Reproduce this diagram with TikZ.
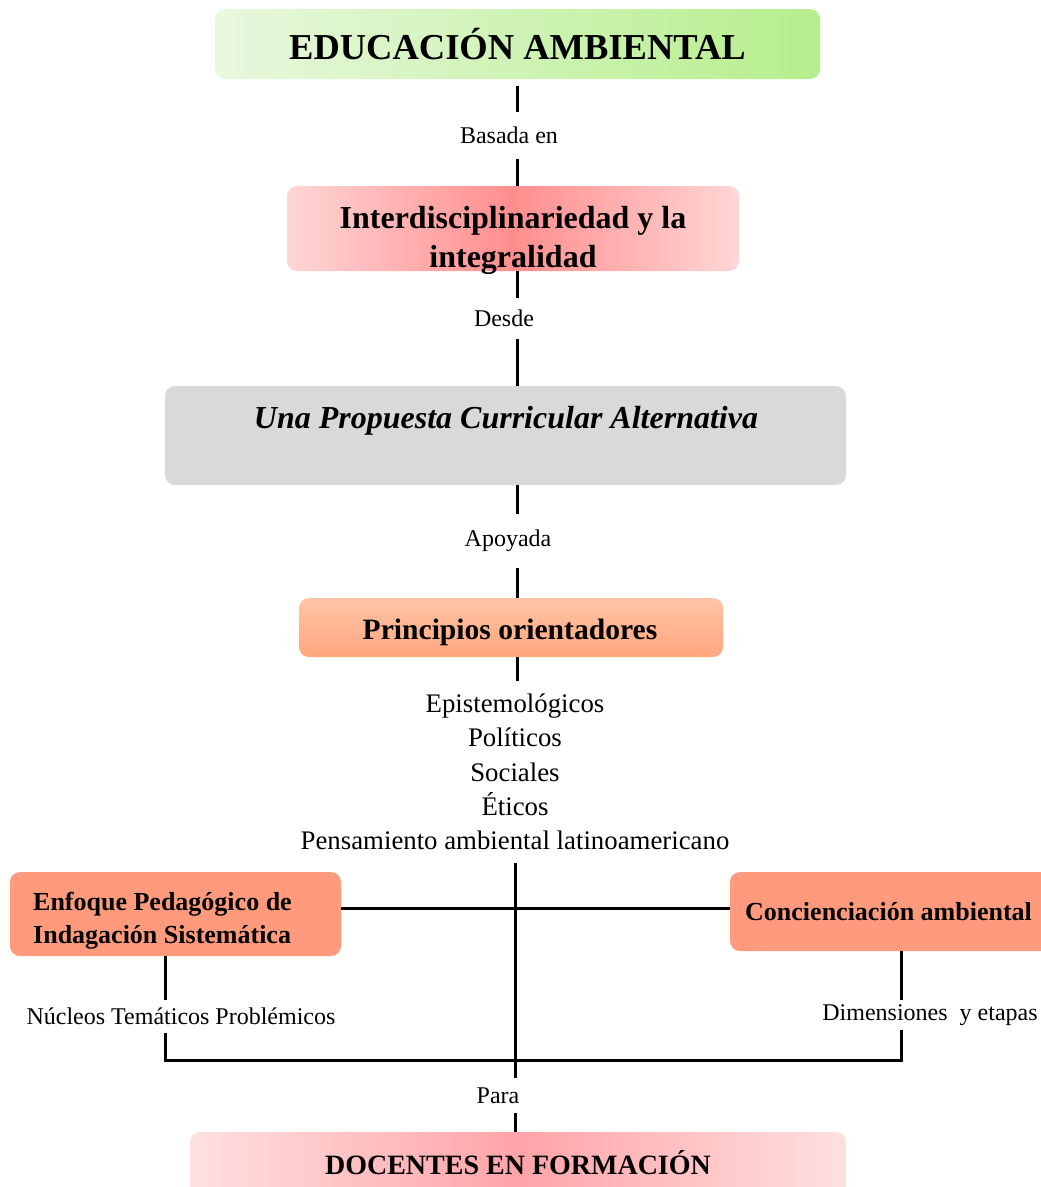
\documentclass[tikz,border=0pt]{standalone}
\usepackage{fontspec}
\setmainfont{Liberation Serif}
\definecolor{grL}{HTML}{E8F8DE}
\definecolor{grR}{HTML}{B6EE8C}
\definecolor{pkE}{HTML}{FFD6D6}
\definecolor{pkM}{HTML}{FF8E8E}
\definecolor{dcE}{HTML}{FFE0E0}
\definecolor{dcM}{HTML}{FFA4A8}
\definecolor{orT}{HTML}{FFC4A4}
\definecolor{orB}{HTML}{FFA67E}
\definecolor{salmon}{HTML}{FF9A7C}
\definecolor{greybox}{HTML}{D9D9D9}
\begin{document}
\begin{tikzpicture}[x=1pt,y=-1pt,
  box/.style={rounded corners=10pt, inner sep=0pt, draw=none},
  conn/.style={line width=3pt, black},
  lab/.style={inner sep=0pt, font=\fontsize{24}{28}\selectfont},
  txt/.style={inner sep=0pt, font=\fontsize{#1}{36}\selectfont\bfseries},
]
\useasboundingbox (0,0) rectangle (1041,1187);
\begin{scope}
\clip (0,0) rectangle (1041,1187);

% boxes
\node[box, left color=grL, right color=grR, minimum width=605pt, minimum height=70pt,
      font=\fontsize{36.5}{42}\selectfont\bfseries] (edu) at (517.5,44) {EDUCACIÓN AMBIENTAL};

\node[box, left color=pkE, right color=pkE, middle color=pkM,
      minimum width=452pt, minimum height=85pt] (int) at (513,228.5) {};
\node[align=center, inner sep=0pt, font=\fontsize{32}{39}\selectfont\bfseries] (intT) at (513,240)
  {Interdisciplinariedad y la\\integralidad};

\node[box, fill=greybox, minimum width=681pt, minimum height=99pt] (una) at (505.5,435.5) {};
\node[inner sep=0pt, font=\fontsize{32}{38}\selectfont\bfseries\itshape] (unaT) at (506,421)
  {Una Propuesta Curricular Alternativa};

\node[box, top color=orT, bottom color=orB, minimum width=424pt, minimum height=59pt] (pri) at (511,627.5) {};
\node[txt=29.6] (priT) at (510,632) {Principios orientadores};

\node[box, fill=salmon, minimum width=331pt, minimum height=84pt] (enf) at (175.5,914) {};
\node[anchor=west, align=left, inner sep=0pt, font=\fontsize{26}{33}\selectfont\bfseries] (enfT) at (33,921)
  {Enfoque Pedagógico de\\Indagación Sistemática};

\node[box, fill=salmon, minimum width=330pt, minimum height=79pt] (conc) at (895,911.5) {};
\node[anchor=west, txt=26] (concT) at (745,911.5) {Concienciación ambiental};

\node[box, left color=dcE, right color=dcE, middle color=dcM,
      minimum width=656pt, minimum height=68pt] (doc) at (518,1166) {};
\node[txt=28] (docT) at (518,1163) {DOCENTES EN FORMACIÓN};

% connector labels
\node[lab, minimum height=47pt] (basada) at (509,135.5) {Basada en};
\node[lab, minimum height=41pt] (desde) at (504,318.5) {Desde};
\node[lab, minimum height=54pt] (apoyada) at (508,541) {Apoyada};
\node[align=center, inner sep=0pt, minimum height=182pt,
      font=\fontsize{26.8}{34.3}\selectfont] (lista) at (515,772)
  {Epistemológicos\\Políticos\\Sociales\\Éticos\\Pensamiento ambiental latinoamericano};
\node[lab, minimum height=35pt] (para) at (498,1095.5) {Para};
\node[lab, minimum height=33pt] (nuc) at (181,1016.5) {Núcleos Temáticos Problémicos};
\node[lab, minimum height=30pt] (dim) at (930,1015) {Dimensiones\ \ y etapas};

% connectors
\coordinate (hl) at (0,908);
\coordinate (bl) at (165,1060);
\coordinate (br) at (901,1060);

\draw[conn, shorten <=7pt] (edu.south) -- (basada.north -| edu.south);
\draw[conn] (basada.south -| edu.south) -- (int.north -| edu.south);
\draw[conn] (int.south -| edu.south) -- (desde.north -| edu.south);
\draw[conn] (desde.south -| edu.south) -- (una.north -| edu.south);
\draw[conn] (una.south -| edu.south) -- (apoyada.north -| edu.south);
\draw[conn] (apoyada.south -| edu.south) -- (pri.north -| edu.south);
\draw[conn] (pri.south -| edu.south) -- (lista.north -| edu.south);
\draw[conn] (lista.south) -- (para.north -| lista.south);
\draw[conn] (para.south -| lista.south) -- (doc.north -| lista.south);

\draw[conn] (enf.east |- hl) -- (conc.west |- hl);
\draw[conn] (enf.south -| bl) -- (nuc.north -| bl);
\draw[conn] (nuc.south -| bl) -- (bl) -- (br) -- (dim.south -| br);
\draw[conn] (dim.north -| br) -- (conc.south -| br);
\end{scope}
\end{tikzpicture}
\end{document}
